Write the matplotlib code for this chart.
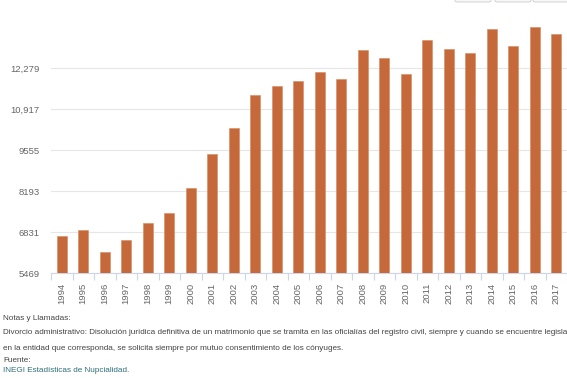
import matplotlib.pyplot as plt
import numpy as np
from matplotlib.patches import FancyBboxPatch

# divorcios administrativos por año
years = [str(y) for y in range(1994, 2018)]
values = [6717, 6897, 6186, 6575, 7149, 7481, 8311, 9420, 10296, 11382, 11691, 11857,
          12156, 11914, 12887, 12611, 12100, 13209, 12910, 12787, 13575, 13010, 13661, 13419]
ytick_vals = [5469, 6831, 8193, 9555, 10917, 12279]
ytick_labels = ['5469', '6831', '8193', '9555', '10,917', '12,279']

notes = [
    'Notas y Llamadas:',
    'Divorcio administrativo: Disolución jurídica definitiva de un matrimonio que se tramita en las oficialías del registro civil, siempre y cuando se encuentre legislado',
    'en la entidad que corresponda, se solicita siempre por mutuo consentimiento de los cónyuges.',
    'Fuente:',
]
source = 'INEGI Estadísticas de Nupcialidad.'

plt.rcParams['font.family'] = ['Liberation Sans', 'DejaVu Sans']

fig = plt.figure(figsize=(5.67, 3.78), dpi=100)
ax = fig.add_axes([51 / 567, 0.277, 516 / 567, 0.679])

x = np.arange(len(years))
ax.bar(x, values, width=0.46, color='#c6693a', edgecolor='#d9885c', linewidth=0.4, zorder=3)

ax.set_xlim(-0.5, len(years) - 0.5)
ax.set_ylim(5469, 14000)
ax.set_yticks(ytick_vals)
ax.set_yticklabels(ytick_labels)
ax.grid(axis='y', color='#e6e6e6', linewidth=0.8, zorder=0)

ax.set_xticks(x)
ax.set_xticklabels(years, rotation=90)
ax.set_xticks(np.arange(-0.5, len(years), 1), minor=True)
ax.tick_params(axis='x', which='major', length=0, pad=7, labelsize=6.8, colors='#666666')
ax.tick_params(axis='x', which='minor', length=5, color='#ccd6eb', width=0.8)
ax.tick_params(axis='y', length=0, pad=8, labelsize=6.8, colors='#666666')

for s in ['top', 'right', 'left']:
    ax.spines[s].set_visible(False)
ax.spines['bottom'].set_color('#ccd6eb')
ax.spines['bottom'].set_linewidth(0.8)

# botones arriba a la derecha (recortados)
for bx in [455, 495, 533]:
    fig.patches.append(FancyBboxPatch((bx / 567, 1.0 - 2 / 378), 36 / 567, 10 / 378,
                                      boxstyle='round,pad=0,rounding_size=0.004',
                                      transform=fig.transFigure, facecolor='#f7f7f7',
                                      edgecolor='#cccccc', linewidth=0.6))

ys = [318, 333, 349, 360]
for t, yy in zip(notes, ys):
    fig.text(3 / 567, 1 - yy / 378, t, fontsize=5.9, color='#444444', va='center', ha='left')
fig.text(3 / 567, 1 - 371 / 378, source, fontsize=5.9, color='#2f6f7a', va='center', ha='left')

fig.savefig('out.png', dpi=100)
